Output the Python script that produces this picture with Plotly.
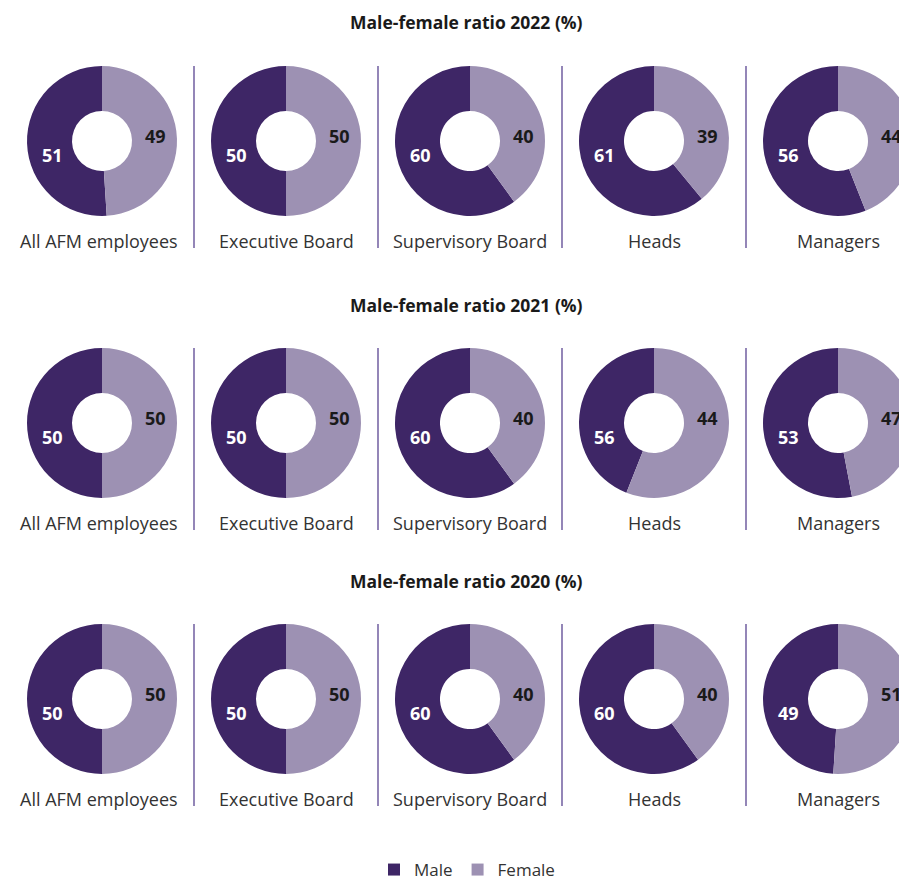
import plotly.graph_objects as go

years = ["2022", "2021", "2020"]
categories = ["All AFM employees", "Executive Board", "Supervisory Board", "Heads", "Managers"]

# Values printed as labels
male_labels = {
    "2022": [51, 50, 60, 61, 56],
    "2021": [50, 50, 60, 56, 53],
    "2020": [50, 50, 60, 60, 49],
}
female_labels = {
    "2022": [49, 50, 40, 39, 44],
    "2021": [50, 50, 40, 44, 47],
    "2020": [50, 50, 40, 40, 51],
}
# Slice sizes as drawn in the reference (2021 Heads slice drawn swapped)
male_drawn = {
    "2022": [51, 50, 60, 61, 56],
    "2021": [50, 50, 60, 44, 53],
    "2020": [50, 50, 60, 60, 49],
}
female_drawn = {
    "2022": [49, 50, 40, 39, 44],
    "2021": [50, 50, 40, 56, 47],
    "2020": [50, 50, 40, 40, 51],
}

MALE_C = "#3e2666"
FEMALE_C = "#9d91b3"
W, H = 933, 881
FONT = "Open Sans"

col_x = [102, 286, 470, 654, 838]
row_y = [141, 423, 699]
title_y = [22, 305, 581]
R = 75

def px(x):
    return x / W

def py(y):
    return 1 - y / H

fig = go.Figure()
annotations = []
shapes = []
first = True
for ri, yr in enumerate(years):
    cy = row_y[ri]
    annotations.append(dict(x=px(W / 2), y=py(title_y[ri]), xref="paper", yref="paper",
                            text=f"<b>Male-female ratio {yr} (%)</b>", showarrow=False,
                            font=dict(family=FONT, size=17.5, color="#1a1a1a"),
                            xanchor="center", yanchor="middle"))
    for ci, cat in enumerate(categories):
        cx = col_x[ci]
        m = male_drawn[yr][ci]
        f = female_drawn[yr][ci]
        fig.add_trace(go.Pie(
            labels=["Male", "Female"],
            values=[m, f],
            marker=dict(colors=[MALE_C, FEMALE_C], line=dict(width=0)),
            hole=0.4, sort=False, direction="clockwise",
            rotation=-360.0 * m / (m + f),
            textinfo="none", hoverinfo="label+value",
            domain=dict(x=[px(cx - R), min(1, px(cx + R))], y=[py(cy + R), py(cy - R)]),
            showlegend=first,
        ))
        first = False
        annotations.append(dict(x=px(cx - 50), y=py(cy + 14), xref="paper", yref="paper",
                                text=f"<b>{male_labels[yr][ci]}</b>", showarrow=False,
                                font=dict(family=FONT, size=18, color="white"),
                                xanchor="center", yanchor="middle"))
        annotations.append(dict(x=px(cx + 53), y=py(cy - 5), xref="paper", yref="paper",
                                text=f"<b>{female_labels[yr][ci]}</b>", showarrow=False,
                                font=dict(family=FONT, size=18, color="#1a1a1a"),
                                xanchor="center", yanchor="middle"))
        lx = cx - 3 if ci == 0 else cx
        annotations.append(dict(x=px(lx), y=py(cy + 100), xref="paper", yref="paper",
                                text=cat, showarrow=False,
                                font=dict(family=FONT, size=18, color="#333333"),
                                xanchor="center", yanchor="middle"))
        if ci > 0:
            sx = (col_x[ci - 1] + cx) / 2
            shapes.append(dict(type="line", xref="paper", yref="paper",
                               x0=px(sx), x1=px(sx), y0=py(cy - 75), y1=py(cy + 107),
                               line=dict(color="#5a4591", width=1.3)))

fig.update_layout(
    width=W, height=H,
    margin=dict(l=0, r=0, t=0, b=0, autoexpand=False),
    paper_bgcolor="white", plot_bgcolor="white",
    annotations=annotations, shapes=shapes,
    legend=dict(orientation="h", x=px(467), xanchor="center", y=py(870), yanchor="middle",
                font=dict(family=FONT, size=17, color="#333333"), itemwidth=30),
    font=dict(family=FONT),
)

fig.write_html("out.html", post_script="document.body.style.overflow='hidden';document.documentElement.style.overflow='hidden';document.body.style.margin='0';")
